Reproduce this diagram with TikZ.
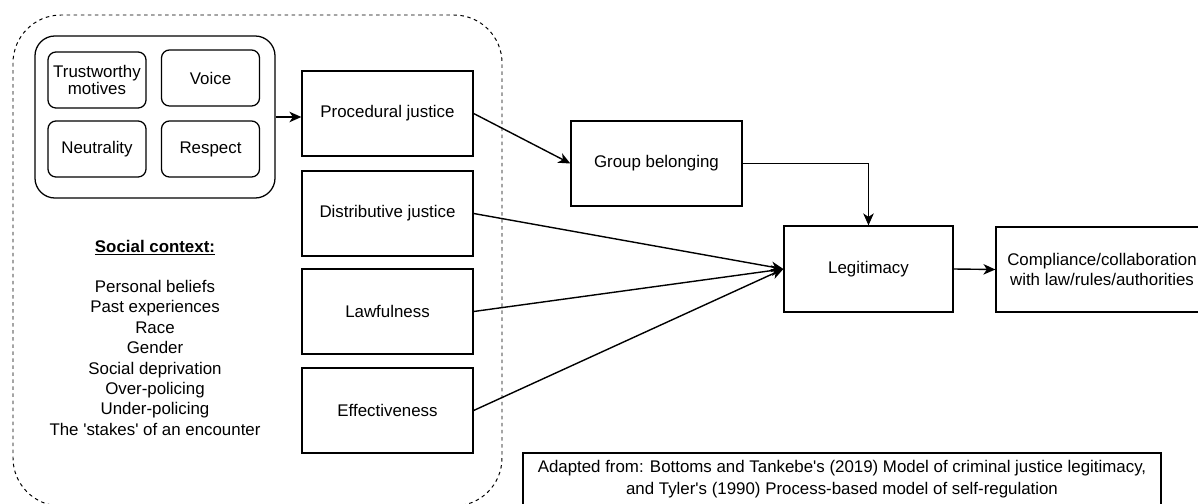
\documentclass[tikz,border=0pt]{standalone}
\usepackage{fontspec}
\setmainfont{Liberation Sans}
\usetikzlibrary{positioning,arrows.meta}
\tikzset{
  box/.style={draw,line width=0.9pt,minimum width=4.275cm,minimum height=2.125cm,align=center},
  pill/.style={draw,line width=0.9pt,rounded corners=0.2cm,minimum width=2.45cm,minimum height=1.4cm,align=center,inner sep=1pt},
  arr/.style={-{Stealth[length=8.5pt,width=7.5pt,inset=2.5pt]},line width=1pt}
}

\begin{document}
\begin{tikzpicture}[x=0.025cm,y=-0.025cm,font=\fontsize{12}{14.5}\selectfont]
\useasboundingbox (0,0) rectangle (1198,504);
\draw[dash pattern=on 2.5pt off 2.5pt,line width=0.7pt,rounded corners=1.2cm] (13,15) rectangle (502,506);
\node[draw,line width=0.9pt,rounded corners=0.5cm,minimum width=6cm,minimum height=4.05cm] (pillars) at (155,117) {};
\node[pill,font=\fontsize{12}{12.5}\selectfont] (motives) at (97,80) {Trustworthy\\motives};
\node[pill] (voice) at (210.5,78) {Voice};
\node[pill] (neutral) at (97,149) {Neutrality};
\node[pill] (respect) at (210.5,149) {Respect};
\node[anchor=north,align=center,inner sep=0] (context) at (155,240) {\underline{\textbf{Social context:}}\\[14pt]
  Personal beliefs\\Past experiences\\Race\\Gender\\Social deprivation\\Over-policing\\Under-policing\\The \textquotesingle stakes\textquotesingle\ of an encounter};

\node[box] (proc) at (387.5,113.5) {Procedural justice};
\node[box] (dist) at (387.5,213.5) {Distributive justice};
\node[box] (law) at (387.5,311.5) {Lawfulness};
\node[box] (eff) at (387.5,410.5) {Effectiveness};
\node[box] (group) at (656.5,163.5) {Group belonging};
\node[box,minimum width=4.225cm,minimum height=2.15cm] (legit) at (868.5,269) {Legitimacy};
\node[box,minimum width=5.3cm,font=\fontsize{12}{14.2}\selectfont] (comply) at (1102,269.5) {Compliance/collaboration\\with law/rules/authorities};
\node[box,minimum width=15.95cm,minimum height=1.3cm,font=\fontsize{12}{15.6}\selectfont] (cite) at (842,479)
  {Adapted from: Bottoms and Tankebe\textquotesingle s (2019) Model of criminal justice legitimacy,\\and Tyler\textquotesingle s (1990) Process-based model of self-regulation};

\draw[arr] (pillars.east) -- (proc.west |- pillars.east);
\draw[arr] (proc.east) -- (group.west);
\draw[arr] (group.east) -| (legit.north);
\draw[arr] (dist.east) -- (legit.west);
\draw[arr] (law.east) -- (legit.west);
\draw[arr] (eff.east) -- (legit.west);
\draw[arr] (legit.east) -- (comply.west);
\end{tikzpicture}
\end{document}
